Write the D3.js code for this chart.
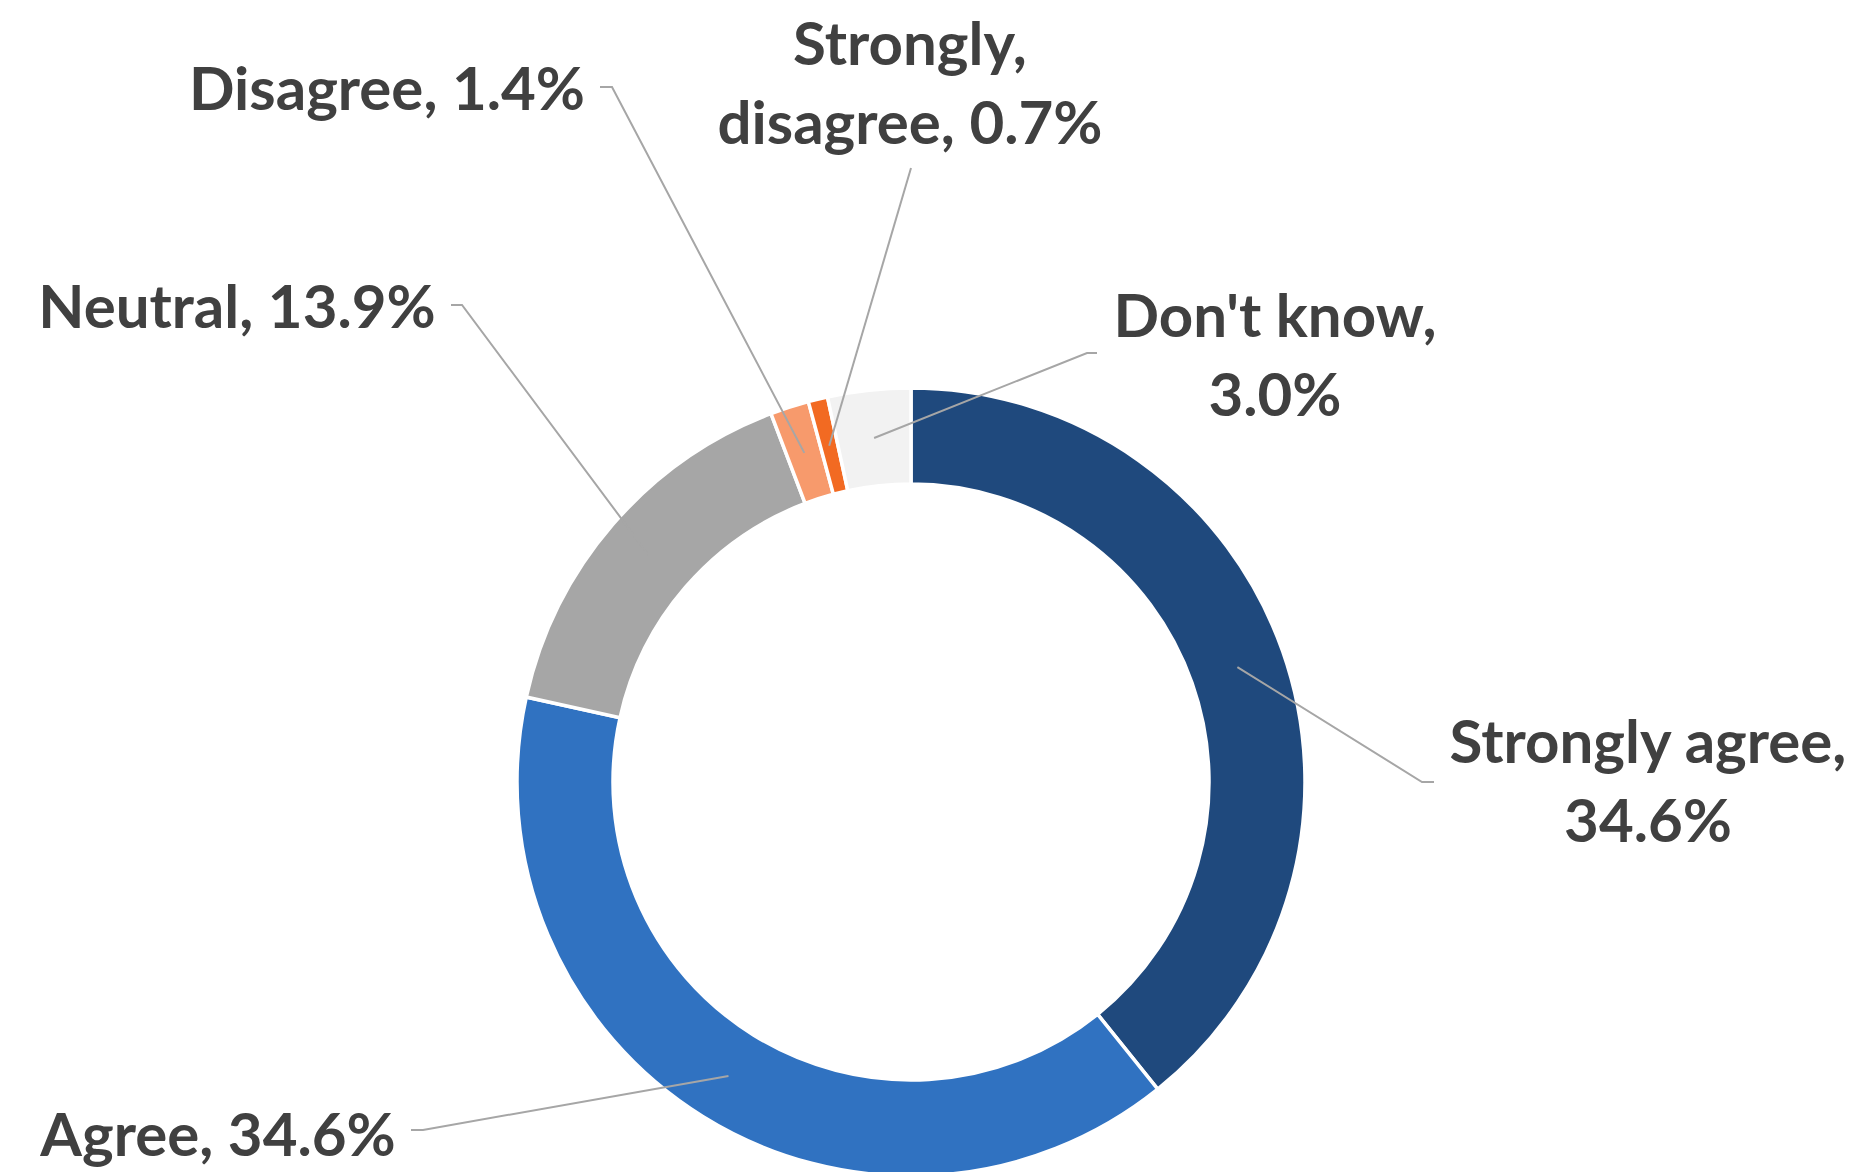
<!DOCTYPE html>
<html>
<head>
<meta charset="utf-8">
<script src="https://cdn.jsdelivr.net/npm/d3@7"></script>
<style>
  html, body { margin: 0; padding: 0; background: #ffffff; }
  svg { display: block; }
</style>
</head>
<body>
<script>
// Survey response shares (percent), in clockwise order from 12 o'clock
const categories = ["Strongly agree", "Agree", "Neutral", "Disagree", "Strongly disagree", "Don't know"];
const shares = [34.6, 34.6, 13.9, 1.4, 0.7, 3.0];
const labelLines = [
  ["Strongly agree,", "34.6%"],
  ["Agree, 34.6%"],
  ["Neutral, 13.9%"],
  ["Disagree, 1.4%"],
  ["Strongly,", "disagree, 0.7%"],
  ["Don't know,", "3.0%"]
];
const colors = ["#1f497d", "#3072c1", "#a6a6a6", "#f79a6c", "#f26a22", "#f2f2f2"];

// Label placement: text anchor (x, first baseline) and where the leader meets the label
const labelLayout = [
  { x: 1648, y: 763, elbow: [1422, 782], end: [1434, 782] },
  { x: 218,  y: 1156, elbow: [423, 1130], end: [411, 1130] },
  { x: 237,  y: 328, elbow: [462, 305], end: [451, 305] },
  { x: 387,  y: 110, elbow: [612, 87], end: [600, 87] },
  { x: 910,  y: 65,  elbow: [911, 168], end: [911, 168] },
  { x: 1275, y: 337, elbow: [1087, 353], end: [1097, 353] }
];

const W = 1869, H = 1172;
const cx = 911, cy = 782;
const rOuter = 394, rInner = 298;
const lineGap = 79;

const svg = d3.select("body").append("svg")
  .attr("width", W).attr("height", H);

const data = categories.map((c, i) => ({ category: c, value: shares[i], index: i }));

const pie = d3.pie().value(d => d.value).sort(null);
const arc = d3.arc().innerRadius(rInner).outerRadius(rOuter);
const midArc = d3.arc().innerRadius((rInner + rOuter) / 2).outerRadius((rInner + rOuter) / 2);

const arcs = pie(data);
const g = svg.append("g").attr("transform", `translate(${cx},${cy})`);

g.selectAll("path.slice")
  .data(arcs)
  .join("path")
  .attr("class", "slice")
  .attr("d", arc)
  .attr("fill", d => colors[d.data.index])
  .attr("stroke", "#ffffff")
  .attr("stroke-width", 3.5)
  .attr("stroke-linejoin", "miter");

// Leader lines from each slice centroid to its label
const leaders = svg.append("g");
arcs.forEach(a => {
  const i = a.data.index;
  const [mx, my] = midArc.centroid(a);
  const L = labelLayout[i];
  const pts = [[cx + mx, cy + my], L.elbow, L.end];
  leaders.append("path")
    .attr("d", d3.line()(pts))
    .attr("fill", "none")
    .attr("stroke", "#a6a6a6")
    .attr("stroke-width", 2);
});

// Data labels
const labels = svg.append("g")
  .attr("font-family", "Lato, 'Open Sans', sans-serif")
  .attr("font-weight", 700)
  .attr("font-size", 60)
  .attr("fill", "#404040")
  .attr("text-anchor", "middle");

labelLines.forEach((lines, i) => {
  const L = labelLayout[i];
  const t = labels.append("g")
    .attr("transform", `translate(${L.x},${L.y})`);
  lines.forEach((s, k) => {
    t.append("text")
      .attr("x", 0)
      .attr("y", k * lineGap)
      .text(s);
  });
});
</script>
</body>
</html>
